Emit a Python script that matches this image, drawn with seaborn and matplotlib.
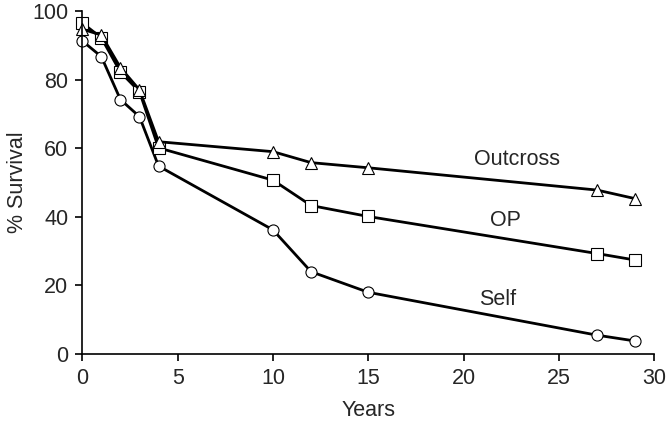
import numpy as np
import pandas as pd
import matplotlib as mpl
mpl.use("Agg")
import matplotlib.pyplot as plt
import seaborn as sns

# datos de supervivencia
years = [0, 1, 2, 3, 4, 10, 12, 15, 27, 29]
outcross = [94.7, 93.0, 83.5, 77.0, 61.9, 59.0, 55.8, 54.3, 47.8, 45.3]
op = [96.5, 92.2, 82.2, 76.5, 60.1, 50.7, 43.3, 40.1, 29.3, 27.4]
self_ = [91.3, 86.7, 74.2, 69.2, 54.8, 36.2, 24.0, 18.0, 5.5, 3.8]

series = ["Self", "OP", "Outcross"]  # orden de dibujo, triangulos encima
markers = {"Outcross": "^", "OP": "s", "Self": "o"}
label_pos = {"Outcross": (22.8, 56.6), "OP": (22.2, 38.9), "Self": (21.8, 16.0)}

df = pd.DataFrame({
    "Years": years * 3,
    "Survival": outcross + op + self_,
    "Cross": ["Outcross"] * len(years) + ["OP"] * len(years) + ["Self"] * len(years),
})

sns.set_style("ticks")
plt.rcParams['font.family'] = ['Liberation Sans', 'DejaVu Sans']
fs = 15.5

fig = plt.figure(figsize=(6.69, 4.24), dpi=100)
ax = fig.add_axes([0.123, 0.165, 0.855, 0.809])

for s in series:
    d = df[df["Cross"] == s]
    sns.lineplot(data=d, x="Years", y="Survival", ax=ax, color="black", lw=2,
                 marker=markers[s], markersize=8, markerfacecolor="white",
                 markeredgecolor="black", markeredgewidth=0.8, clip_on=False, legend=False)
    ax.text(label_pos[s][0], label_pos[s][1], s, fontsize=fs, ha="center", va="center")

ax.set_xlim(0, 30)
ax.set_ylim(0, 100)
ax.set_xticks(range(0, 31, 5))
ax.set_yticks(range(0, 101, 20))
ax.set_xlabel("Years", fontsize=fs, labelpad=8)
ax.set_ylabel("% Survival", fontsize=fs, labelpad=3)
ax.tick_params(labelsize=fs, width=1.2, length=5, color="black", pad=5)
for sp in ["left", "bottom"]:
    ax.spines[sp].set_linewidth(1.2)
    ax.spines[sp].set_color("black")
sns.despine(ax=ax)

fig.savefig("out.png", dpi=100)
